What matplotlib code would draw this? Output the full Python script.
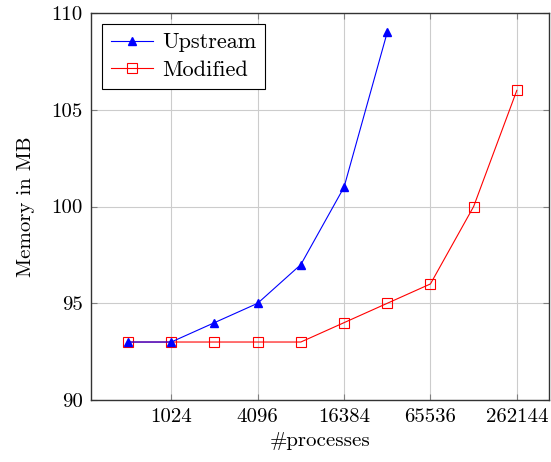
import matplotlib
matplotlib.use("Agg")
import matplotlib.pyplot as plt

plt.rcParams['font.family'] = ['cmr10', 'DejaVu Serif']
plt.rcParams['axes.formatter.use_mathtext'] = True
plt.rcParams['mathtext.fontset'] = 'cm'

up_procs = [512, 1024, 2048, 4096, 8192, 16384, 32768]
up_mem = [93, 93, 94, 95, 97, 101, 109]

mod_procs = [512, 1024, 2048, 4096, 8192, 16384, 32768, 65536, 131072, 262144]
mod_mem = [93, 93, 93, 93, 93, 94, 95, 96, 100, 106]

xticks = [1024, 4096, 16384, 65536, 262144]
yticks = [90, 95, 100, 105, 110]

fig = plt.figure(figsize=(5.51, 4.62), dpi=100)
ax = fig.add_axes([0.165, 0.134, 0.831, 0.838])

ax.plot(mod_procs, mod_mem, color='red', lw=0.8, marker='s', ms=6.5,
        mfc='none', mec='red', mew=0.8, label='Modified', zorder=3)
ax.plot(up_procs, up_mem, color='blue', lw=0.8, marker='^', ms=6,
        mfc='blue', mec='blue', label='Upstream', zorder=4)

ax.set_xscale('log', base=2)
ax.set_xlim(2 ** 8.14, 2 ** 18.74)
ax.set_ylim(90, 110)
ax.set_xticks(xticks)
ax.set_xticklabels([str(t) for t in xticks])
ax.minorticks_off()
ax.set_yticks(yticks)
ax.set_yticklabels([str(t) for t in yticks])
ax.tick_params(direction='in', length=4, width=0.8, color='#808080',
               labelsize=15, top=True, right=True, pad=6)
ax.grid(True, color='#cccccc', lw=0.8)
ax.set_axisbelow(True)
for s in ax.spines.values():
    s.set_color('#333333')
    s.set_linewidth(1.0)

ax.set_xlabel('#processes', fontsize=15, labelpad=4)
ax.set_ylabel('Memory in MB', fontsize=15, labelpad=12)

h, l = ax.get_legend_handles_labels()
leg = ax.legend(h[::-1], l[::-1], loc='upper left', fontsize=16, fancybox=False,
                edgecolor='black', framealpha=1, borderaxespad=0.5,
                handlelength=1.9, handletextpad=0.4, borderpad=0.4,
                labelspacing=0.35)
leg.get_frame().set_linewidth(0.8)

fig.savefig('out.png', dpi=100)
